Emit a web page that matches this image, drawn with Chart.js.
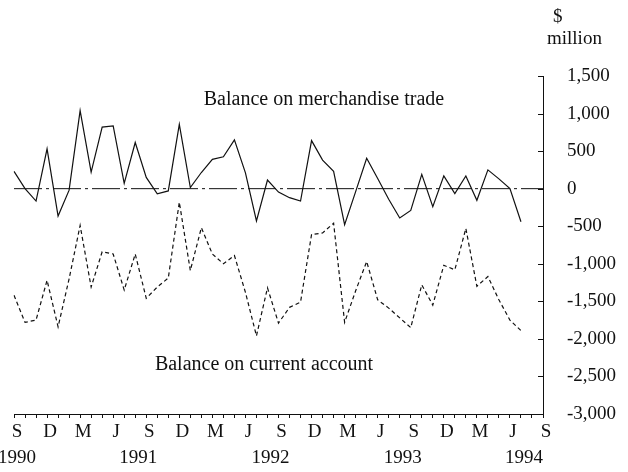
<!DOCTYPE html>
<html lang="en">
<head>
  <meta charset="UTF-8" />
  <title>Balance on merchandise trade and current account</title>
  <style>
    body {
      margin: 0;
      background: #fff;
    }
    .wrap {
      width: 628px;
      height: 472px;
    }
  </style>
</head>
<body>
  <div class="wrap">
    <canvas id="balanceChart" width="628" height="472"></canvas>
  </div>

  <script src="https://cdn.jsdelivr.net/npm/chart.js"></script>
  <script>
    // months, Sep 1990 to Sep 1994
    const categories = [
      'Sep 1990', 'Oct 1990', 'Nov 1990', 'Dec 1990', 'Jan 1991', 'Feb 1991', 'Mar 1991',
      'Apr 1991', 'May 1991', 'Jun 1991', 'Jul 1991', 'Aug 1991', 'Sep 1991', 'Oct 1991',
      'Nov 1991', 'Dec 1991', 'Jan 1992', 'Feb 1992', 'Mar 1992', 'Apr 1992', 'May 1992',
      'Jun 1992', 'Jul 1992', 'Aug 1992', 'Sep 1992', 'Oct 1992', 'Nov 1992', 'Dec 1992',
      'Jan 1993', 'Feb 1993', 'Mar 1993', 'Apr 1993', 'May 1993', 'Jun 1993', 'Jul 1993',
      'Aug 1993', 'Sep 1993', 'Oct 1993', 'Nov 1993', 'Dec 1993', 'Jan 1994', 'Feb 1994',
      'Mar 1994', 'Apr 1994', 'May 1994', 'Jun 1994', 'Jul 1994', 'Aug 1994', 'Sep 1994'
    ];

    // $ million, monthly
    const merchandiseTrade = [
      230, 0, -165, 530, -365, -20, 1040, 220, 820, 835, 70, 615,
      150, -70, -30, 855, 15, 215, 390, 425, 650, 210, -430, 115,
      -45, -120, -165, 640, 380, 230, -480, -40, 405, 135, -140, -390,
      -290, 190, -240, 170, -65, 170, -155, 250, 130, 0, -440
    ];

    const currentAccount = [
      -1420, -1780, -1750, -1220, -1840, -1200, -490, -1310, -840, -870, -1350, -870,
      -1460, -1310, -1190, -180, -1090, -520, -870, -1000, -890, -1380, -1960, -1320,
      -1790, -1580, -1510, -610, -590, -460, -1780, -1360, -970, -1480, -1590, -1720,
      -1850, -1280, -1550, -1020, -1080, -530, -1300, -1170, -1480, -1750, -1890
    ];

    // x tick labels (one slot per month)
    const monthLetters = [
      'S', '', '', 'D', '', '', 'M', '', '', 'J', '', '', 'S', '', '', 'D', '', '',
      'M', '', '', 'J', '', '', 'S', '', '', 'D', '', '', 'M', '', '', 'J', '', '',
      'S', '', '', 'D', '', '', 'M', '', '', 'J', '', '', 'S'
    ];
    const yearLabels = [
      '1990', '', '', '', '', '', '', '', '', '', '', '1991', '', '', '', '', '', '',
      '', '', '', '', '', '1992', '', '', '', '', '', '', '', '', '', '', '', '1993',
      '', '', '', '', '', '', '', '', '', '', '1994', '', ''
    ];

    const yTicks = [1500, 1000, 500, 0, -500, -1000, -1500, -2000, -2500, -3000];

    const serif = '"Liberation Serif", "Times New Roman", serif';
    const ink = '#111';

    Chart.defaults.font.family = serif;
    Chart.defaults.color = ink;

    // zero line, inner y ticks and the text labels
    const extras = {
      id: 'extras',
      afterDraw(chart) {
        const ctx = chart.ctx;
        const area = chart.chartArea;
        const y = chart.scales.y;

        ctx.save();
        ctx.strokeStyle = ink;
        ctx.lineWidth = 1;

        const y0 = y.getPixelForValue(0);
        ctx.setLineDash([28, 4, 3, 4]);
        ctx.beginPath();
        ctx.moveTo(area.left, y0);
        ctx.lineTo(area.right, y0);
        ctx.stroke();

        ctx.setLineDash([]);
        y.ticks.forEach(t => {
          const py = Math.round(y.getPixelForValue(t.value)) + 0.5;
          ctx.beginPath();
          ctx.moveTo(area.right - 5, py);
          ctx.lineTo(area.right, py);
          ctx.stroke();
        });

        ctx.fillStyle = ink;
        ctx.textBaseline = 'middle';
        ctx.font = '20px ' + serif;
        ctx.textAlign = 'center';
        ctx.fillText('Balance on merchandise trade', 324, 100);
        ctx.fillText('Balance on current account', 264, 365);

        ctx.font = '19px ' + serif;
        ctx.textAlign = 'left';
        ctx.fillText('$', 553, 17);
        ctx.fillText('million', 547, 39);
        ctx.restore();
      }
    };

    new Chart(document.getElementById('balanceChart'), {
      type: 'line',
      data: {
        labels: categories,
        datasets: [
          {
            label: 'Balance on merchandise trade',
            data: merchandiseTrade,
            borderColor: ink,
            borderWidth: 1.2,
            pointRadius: 0,
            tension: 0,
            fill: false
          },
          {
            label: 'Balance on current account',
            data: currentAccount,
            borderColor: ink,
            borderWidth: 1.2,
            borderDash: [4, 3],
            pointRadius: 0,
            tension: 0,
            fill: false
          }
        ]
      },
      options: {
        responsive: false,
        animation: false,
        devicePixelRatio: 1,
        layout: {
          padding: { left: 14, top: 76, right: 0, bottom: 0 }
        },
        plugins: {
          legend: { display: false },
          tooltip: { enabled: false }
        },
        scales: {
          x: {
            type: 'category',
            offset: false,
            grid: {
              drawOnChartArea: false,
              drawTicks: true,
              tickLength: 4,
              color: ink
            },
            border: { display: true, color: ink, width: 1 },
            ticks: {
              autoSkip: false,
              maxRotation: 0,
              minRotation: 0,
              padding: 1,
              labelOffset: 3,
              font: { size: 19, lineHeight: '26px' },
              callback: (value, i) => [monthLetters[i], yearLabels[i]]
            },
            afterFit(scale) {
              scale.paddingLeft = 0;
              scale.paddingRight = 0;
            }
          },
          y: {
            position: 'right',
            min: -3000,
            max: 1500,
            grid: { display: false },
            border: { display: true, color: ink, width: 1 },
            afterBuildTicks(scale) {
              scale.ticks = yTicks.map(v => ({ value: v }));
            },
            ticks: {
              padding: 16,
              font: { size: 19 },
              callback: v => v.toLocaleString('en-US')
            },
            afterFit(scale) {
              scale.width = 85;
              scale.paddingTop = 0;
              scale.paddingBottom = 0;
            }
          }
        }
      },
      plugins: [extras]
    });
  </script>
</body>
</html>
